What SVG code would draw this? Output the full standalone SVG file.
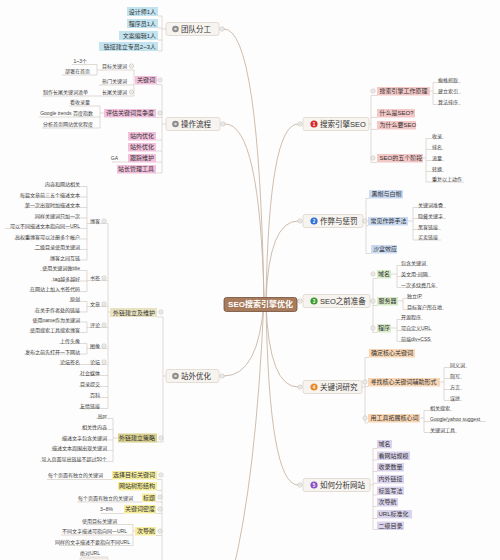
<svg xmlns="http://www.w3.org/2000/svg" width="500" height="560" viewBox="0 0 500 560" style="font-family:'Liberation Sans','Noto Sans CJK SC',sans-serif">
<defs>
<style>
.c{fill:none;stroke:#c9b6a4;stroke-width:0.9}
.l{fill:none;stroke:#cfc5bb;stroke-width:0.6}
.t{font-size:5px;fill:#404040}
.h{font-size:6px;fill:#333}
.m{font-size:7.5px;fill:#333}
.e{text-anchor:end}
.mb{fill:#f7f4f0;stroke:#d5cbc0;stroke-width:0.6}
.cb{fill:#fff;stroke:#aaa29a;stroke-width:0.5}
.blu{fill:#c2e4f0}
.pnk{fill:#f3c0dd}
.tan{fill:#e9e3c0}
.olv{fill:#d9d08e}
.yel{fill:#f6ee9c}
.red{fill:#f5c8c8}
.bl2{fill:#cadbf3}
.grn{fill:#d6ecc7}
.org{fill:#f9d6b4}
.pur{fill:#dbd3ee}
.ic{font-size:4.5px;fill:#fff;text-anchor:middle;font-weight:bold}
</style>
<g id="cbtn"><circle class="cb" r="2.1"/><path d="M-1.1 0H1.1" stroke="#888" stroke-width="0.4"/></g>
</defs>
<rect width="500" height="560" fill="#fdfdfd"/>

<g id="connectors">
<path class="c" d="M264 300Q259 29 224 29"/>
<path class="c" d="M264 300Q260 124 225 124"/>
<path class="c" d="M264 300Q259 376 224 376"/>
<path class="c" d="M264 300Q256 480 232 575"/>
<path class="c" d="M266 300Q269 124 298 124"/>
<path class="c" d="M266 300Q269 221 298 221"/>
<path class="c" d="M266 302Q280 301 298 301"/>
<path class="c" d="M266 304Q269 387 298 387"/>
<path class="c" d="M266 304Q269 485 298 485"/>
<path class="l" d="M166 29H162 M158 16H162V51H158 M158 28H162 M158 40H162"/>
<path class="l" d="M166 124H162 M157 84.5H162V173H156 M156 117.5H162 M156 140H162 M156 151H162 M156 162H162"/>
<path class="l" d="M135 80H134 M99 70H134 M99 85H134 M42 96H134 M134 70V96"/>
<path class="l" d="M72 64.5H97V75H62 M97 70H99"/>
<path class="l" d="M104 113H100 M69 106H100 M39 117H100 M42 128H100 M100 106V128 M112 162H128"/>
<path class="l" d="M166 376H163 M157 317H163V442H157"/>
<path class="l" d="M110 312H108 M108 223.5V408.5 M87 223.5H108 M87 280.5H108 M87 306.5H108 M87 327.5H108 M87 348.5H108 M59 364.5H108 M79 375.5H108 M79 386.5H108 M89 397.5H108 M79 408.5H108"/>
<path class="l" d="M87 186.5V260 M44 186.5H87 M19 197H87 M24 207.5H87 M34 218H87 M5 228.5H87 M14 239H87 M34 249.5H87 M49 260H87"/>
<path class="l" d="M87 270.5V291.5 M40 270.5H87 M51 281H87 M29 291.5H87"/>
<path class="l" d="M87 301.5V312 M69 301.5H87 M34 312H87 M87 322V332.5 M33 322H87 M29 332.5H87 M87 343.5V354 M59 343.5H87 M24 354H87"/>
<path class="l" d="M118 438H113 M113 418.5V461.5 M96 418.5H113 M81 429.5H113 M61 440H113 M51 450.5H113 M40 461.5H113"/>
<path class="l" d="M157 479.5H162V565 M157 490.5H162 M156 502H162 M156 513.5H162 M156 535.5H162 M47 479.5H112 M77 502H142 M101 513.5H124 M135 531H133 M133 524.5V545.5 M86 524.5H133 M61 535H133 M59 545.5H133 M81 557H108"/>
<path class="l" d="M369 124H371 M377 95.5H371V162.5H377 M377 117.5H371 M377 129.5H371"/>
<path class="l" d="M430 91H433 M433 82.5V104.5 M433 82.5H461 M433 93.5H461 M433 104.5H461"/>
<path class="l" d="M423 158H426 M426 138.5V182 M426 138.5H444 M426 149.5H444 M426 160.5H444 M426 171.5H444 M426 182H464"/>
<path class="l" d="M363 221H366 M369 198.5H366V253.5H371 M368 225.5H366"/>
<path class="l" d="M408 221H413 M413 207.5V240 M413 207.5H446 M413 218.5H446 M413 229.5H441 M413 240H441"/>
<path class="l" d="M370 301H373 M377 278.5H373V332.5H377 M377 305.5H373"/>
<path class="l" d="M391 274H397 M397 265.5V287.5 M397 265.5H428 M397 276.5H431 M397 287.5H438"/>
<path class="l" d="M398 301H403 M403 298.5V309.5 M403 298.5H422 M403 309.5H444"/>
<path class="l" d="M391 328H397 M397 319.5V341.5 M397 319.5H423 M397 330.5H432 M397 341.5H432"/>
<path class="l" d="M362 387H365 M369 357.5H365V423H368 M368 386.5H365"/>
<path class="l" d="M440 382H444 M444 367.5V400.5 M444 367.5H467 M444 378.5H462 M444 389.5H462 M444 400.5H462"/>
<path class="l" d="M420 418H424 M424 410.5V432.5 M424 410.5H452 M424 421.5H486 M424 432.5H457"/>
<path class="l" d="M370 485H373 M377 448.5H373V529.5H377 M377 460H373 M377 471.5H373 M377 483.5H373 M377 495H373 M377 506.5H373 M377 518.5H373"/>
</g>

<g id="center">
<rect x="224" y="297.5" width="73" height="14" rx="2.5" fill="#a77b5c" stroke="#74503a" stroke-width="0.8"/>
<text x="260.5" y="307.4" font-size="8" font-weight="bold" fill="#fff" text-anchor="middle">SEO搜索引擎优化</text>
</g>

<g id="n-team"><rect class="mb" x="166" y="22.5" width="53" height="13" rx="2"/><circle cx="175.5" cy="29" r="3.3" fill="#8c8c8c"/><circle cx="175.5" cy="29" r="1.3" fill="#ddd"/><text class="m" x="181" y="31.7">团队分工</text></g>
<g id="n-team-1"><rect class="blu" x="127" y="7" width="31" height="9"/><text class="h e" x="156" y="13.6">设计师1人</text></g>
<g id="n-team-2"><rect class="blu" x="127" y="19" width="31" height="9"/><text class="h e" x="156" y="25.6">程序员1人</text></g>
<g id="n-team-3"><rect class="blu" x="119" y="31" width="39" height="9"/><text class="h e" x="156" y="37.6">文案编辑1人</text></g>
<g id="n-team-4"><rect class="blu" x="99" y="42" width="59" height="9"/><text class="h e" x="156" y="48.6">链接建立专员2~3人</text></g>

<g id="n-flow"><rect class="mb" x="166" y="117.5" width="54" height="13" rx="2"/><circle cx="175.5" cy="124" r="3.3" fill="#8c8c8c"/><circle cx="175.5" cy="124" r="1.3" fill="#ddd"/><text class="m" x="181" y="126.7">操作流程</text></g>
<g id="n-kw"><rect class="pnk" x="135" y="76" width="22" height="8.5"/><text class="h e" x="155" y="82.2">关键词</text></g>
<g id="n-kw-1"><text class="t e" x="127" y="68">目标关键词</text></g>
<g id="n-kw-1a"><text class="t e" x="87" y="62.5">1~3个</text></g>
<g id="n-kw-1b"><text class="t e" x="90" y="72.8">部署在首页</text></g>
<g id="n-kw-2"><text class="t e" x="127" y="83">热门关键词</text></g>
<g id="n-kw-3"><text class="t e" x="127" y="94">长尾关键词</text></g>
<g id="n-kw-3a"><text class="t e" x="88" y="94">制作长尾关键词清单</text></g>
<g id="n-eval"><rect class="pnk" x="104" y="109" width="52" height="8.5"/><text class="h e" x="154" y="115.3">评估关键词竞争度</text></g>
<g id="n-eval-1"><text class="t e" x="90" y="104">看收录量</text></g>
<g id="n-eval-2"><text class="t e" x="93" y="115">Google trends 百度指数</text></g>
<g id="n-eval-3"><text class="t e" x="93" y="126">分析首页网站优化程度</text></g>
<g id="n-onpage"><rect class="pnk" x="128" y="132" width="28" height="8.5"/><text class="h e" x="154" y="138.3">站内优化</text></g>
<g id="n-offpage"><rect class="pnk" x="128" y="143" width="28" height="8.5"/><text class="h e" x="154" y="149.3">站外优化</text></g>
<g id="n-track"><rect class="pnk" x="128" y="154" width="28" height="8.5"/><text class="h e" x="154" y="160.3">跟踪维护</text></g>
<g id="n-ga"><text class="t e" x="118" y="160">GA</text></g>
<g id="n-wmt"><rect class="pnk" x="117" y="165" width="39" height="8.5"/><text class="h e" x="154" y="171.3">站长管理工具</text></g>

<g id="n-off"><rect class="mb" x="166" y="369.5" width="53" height="13" rx="2"/><circle cx="175.5" cy="376" r="3.3" fill="#8c8c8c"/><circle cx="175.5" cy="376" r="1.3" fill="#ddd"/><text class="m" x="181" y="378.7">站外优化</text></g>
<g id="n-link"><rect class="tan" x="110" y="308" width="47" height="9"/><text class="h e" x="155" y="314.6">外链建立及维护</text></g>
<g id="n-blog"><text class="t e" x="100" y="223">博客</text></g>
<g id="n-blog-1"><text class="t e" x="80" y="186">内容和网站相关</text></g>
<g id="n-blog-2"><text class="t e" x="80" y="196.5">每篇文章前三五个描述文本</text></g>
<g id="n-blog-3"><text class="t e" x="80" y="207">第一次出现时加描述文本</text></g>
<g id="n-blog-4"><text class="t e" x="80" y="217.5">同样关键词只加一次</text></g>
<g id="n-blog-5"><text class="t e" x="80" y="228">可以不同描述文本指向同一URL</text></g>
<g id="n-blog-6"><text class="t e" x="80" y="238.5">高权重博客可以注册多个帐户</text></g>
<g id="n-blog-7"><text class="t e" x="80" y="249">二级目录使用关键词</text></g>
<g id="n-blog-8"><text class="t e" x="80" y="259.5">博客之间互链</text></g>
<g id="n-bm"><text class="t e" x="100" y="280">书签</text></g>
<g id="n-bm-1"><text class="t e" x="80" y="270">使用关键词做title</text></g>
<g id="n-bm-2"><text class="t e" x="80" y="280.5">tag越多越好</text></g>
<g id="n-bm-3"><text class="t e" x="80" y="291">在网站上加入书签代码</text></g>
<g id="n-art"><text class="t e" x="100" y="306">文章</text></g>
<g id="n-art-1"><text class="t e" x="80" y="301">原创</text></g>
<g id="n-art-2"><text class="t e" x="80" y="311.5">在关于作者处的链接</text></g>
<g id="n-cmt"><text class="t e" x="100" y="327">评论</text></g>
<g id="n-cmt-1"><text class="t e" x="80" y="321.5">使用name作为关键词</text></g>
<g id="n-cmt-2"><text class="t e" x="80" y="332">使用搜索工具搜索博客</text></g>
<g id="n-img"><text class="t e" x="100" y="348">图像</text></g>
<g id="n-img-1"><text class="t e" x="80" y="343">上传头像</text></g>
<g id="n-img-2"><text class="t e" x="80" y="353.5">发布之前先打开一下网站</text></g>
<g id="n-bbs"><text class="t e" x="100" y="364">论坛</text></g>
<g id="n-bbs-1"><text class="t e" x="80" y="364">论坛签名</text></g>
<g id="n-sns"><text class="t e" x="100" y="375">社会媒体</text></g>
<g id="n-dir"><text class="t e" x="100" y="386">目录提交</text></g>
<g id="n-wiki"><text class="t e" x="100" y="397">百科</text></g>
<g id="n-fl"><text class="t e" x="100" y="408">友情链接</text></g>
<g id="n-strat"><rect class="olv" x="118" y="433.5" width="39" height="9"/><text class="h e" x="155" y="440.1">外链建立策略</text></g>
<g id="n-strat-1"><text class="t e" x="107" y="418">高pr</text></g>
<g id="n-strat-2"><text class="t e" x="107" y="429">相关性内容</text></g>
<g id="n-strat-3"><text class="t e" x="107" y="439.5">描述文字包含关键词</text></g>
<g id="n-strat-4"><text class="t e" x="107" y="450">描述文本周围出现关键词</text></g>
<g id="n-strat-5"><text class="t e" x="107" y="461">导入页面导出链接不超过50个</text></g>

<g id="n-sel"><rect class="yel" x="112" y="471" width="45" height="8.5"/><text class="h e" x="155" y="477.3">选择目标关键词</text></g>
<g id="n-sel-1"><text class="t e" x="103" y="477">每个页面有独立的关键词</text></g>
<g id="n-tree"><rect class="yel" x="118" y="482" width="39" height="8.5"/><text class="h e" x="155" y="488.3">网站树形结构</text></g>
<g id="n-title"><rect class="yel" x="142" y="493.5" width="14" height="8.5"/><text class="h e" x="155" y="499.8">标题</text></g>
<g id="n-title-1"><text class="t e" x="133" y="499.5">每个页面有独立的关键词</text></g>
<g id="n-dens"><rect class="yel" x="124" y="505" width="32" height="8.5"/><text class="h e" x="155" y="511.3">关键词密度</text></g>
<g id="n-dens-1"><text class="t e" x="113" y="511">3~8%</text></g>
<g id="n-nav"><rect class="yel" x="135" y="527" width="21" height="8.5"/><text class="h e" x="155" y="533.3">次导航</text></g>
<g id="n-nav-1"><text class="t e" x="117" y="522.5">使用目标关键词</text></g>
<g id="n-nav-2"><text class="t e" x="127" y="533">不同文字描述可指向同一URL</text></g>
<g id="n-nav-3"><text class="t e" x="130" y="543.5">同样的文字描述不要指向不同URL</text></g>
<g id="n-abs"><text class="t e" x="100" y="555">绝对URL</text></g>
<g id="n-cut"><rect x="80" y="558" width="28" height="8" fill="#f6f3ef" stroke="#d5cbc0" stroke-width="0.5"/></g>

<g id="n-se"><rect class="mb" x="303" y="117.5" width="66" height="13" rx="2"/><circle cx="314" cy="124" r="3.6" fill="#d42b2b"/><text class="ic" x="314" y="125.6">1</text><text class="m" x="320" y="126.7">搜索引擎SEO</text></g>
<g id="n-se-1"><rect class="red" x="377" y="87" width="53" height="8.5"/><text class="h" x="379.5" y="93.3">搜索引擎工作原理</text></g>
<g id="n-se-1a"><text class="t" x="438" y="81.8">蜘蛛抓取</text></g>
<g id="n-se-1b"><text class="t" x="438" y="92.8">建立索引</text></g>
<g id="n-se-1c"><text class="t" x="438" y="103.8">算法排序</text></g>
<g id="n-se-2"><rect class="red" x="377" y="109" width="38" height="8.5"/><text class="h" x="379.5" y="115.3">什么是SEO?</text></g>
<g id="n-se-3"><rect class="red" x="377" y="121" width="39" height="8.5"/><text class="h" x="379.5" y="127.3">为什么要SEO</text></g>
<g id="n-se-4"><rect class="red" x="377" y="154" width="46" height="8.5"/><text class="h" x="379.5" y="160.3">SEO的五个阶段</text></g>
<g id="n-se-4a"><text class="t" x="432" y="137.8">收录</text></g>
<g id="n-se-4b"><text class="t" x="432" y="148.8">排名</text></g>
<g id="n-se-4c"><text class="t" x="432" y="159.8">流量</text></g>
<g id="n-se-4d"><text class="t" x="432" y="170.8">转换</text></g>
<g id="n-se-4e"><text class="t" x="432" y="181.3">重复以上动作</text></g>

<g id="n-cheat"><rect class="mb" x="303" y="214.5" width="60" height="13" rx="2"/><circle cx="314" cy="221" r="3.6" fill="#2b6fd6"/><text class="ic" x="314" y="222.6">2</text><text class="m" x="320" y="223.7">作弊与惩罚</text></g>
<g id="n-ch-1"><rect class="bl2" x="369" y="190" width="34" height="8.5"/><text class="h" x="371.5" y="196.3">黑帽与白帽</text></g>
<g id="n-ch-2"><rect class="bl2" x="368" y="217" width="40" height="8.5"/><text class="h" x="370.5" y="223.3">常见作弊手法</text></g>
<g id="n-ch-2a"><text class="t" x="418" y="206.8">关键词堆叠</text></g>
<g id="n-ch-2b"><text class="t" x="418" y="217.8">隐藏关键字</text></g>
<g id="n-ch-2c"><text class="t" x="418" y="228.8">黑客链接</text></g>
<g id="n-ch-2d"><text class="t" x="418" y="239.3">买卖链接</text></g>
<g id="n-ch-3"><rect class="bl2" x="371" y="245" width="26" height="8.5"/><text class="h" x="373" y="251.3">沙盒效应</text></g>

<g id="n-prep"><rect class="mb" x="303" y="294.5" width="67" height="13" rx="2"/><circle cx="314" cy="301" r="3.6" fill="#3a9a2e"/><text class="ic" x="314" y="302.6">3</text><text class="m" x="320" y="303.7">SEO之前准备</text></g>
<g id="n-pr-1"><rect class="grn" x="377" y="270" width="14" height="8.5"/><text class="h" x="378" y="276.3">域名</text></g>
<g id="n-pr-1a"><text class="t" x="401" y="264.8">包含关键词</text></g>
<g id="n-pr-1b"><text class="t" x="401" y="275.8">英文用-间隔</text></g>
<g id="n-pr-1c"><text class="t" x="401" y="286.8">一次多续费几年</text></g>
<g id="n-pr-2"><rect class="grn" x="377" y="297" width="21" height="8.5"/><text class="h" x="378.5" y="303.3">服务器</text></g>
<g id="n-pr-2a"><text class="t" x="407" y="297.8">独立IP</text></g>
<g id="n-pr-2b"><text class="t" x="407" y="308.8">目标客户所在地</text></g>
<g id="n-pr-3"><rect class="grn" x="377" y="324" width="14" height="8.5"/><text class="h" x="378" y="330.3">程序</text></g>
<g id="n-pr-3a"><text class="t" x="401" y="318.8">开源程序</text></g>
<g id="n-pr-3b"><text class="t" x="401" y="329.8">可自定义URL</text></g>
<g id="n-pr-3c"><text class="t" x="401" y="340.8">前端div+CSS</text></g>

<g id="n-kwr"><rect class="mb" x="303" y="380.5" width="59" height="13" rx="2"/><circle cx="314" cy="387" r="3.6" fill="#e8892a"/><text class="ic" x="314" y="388.6">4</text><text class="m" x="320" y="389.7">关键词研究</text></g>
<g id="n-kr-1"><rect class="org" x="369" y="349" width="46" height="8.5"/><text class="h" x="371" y="355.3">确定核心关键词</text></g>
<g id="n-kr-2"><rect class="org" x="368" y="378" width="72" height="8.5"/><text class="h" x="370.5" y="384.3">寻找核心关键词辅助形式</text></g>
<g id="n-kr-2a"><text class="t" x="450" y="366.8">同义词</text></g>
<g id="n-kr-2b"><text class="t" x="450" y="377.8">简写</text></g>
<g id="n-kr-2c"><text class="t" x="450" y="388.8">方言</text></g>
<g id="n-kr-2d"><text class="t" x="450" y="399.8">误拼</text></g>
<g id="n-kr-3"><rect class="org" x="368" y="414" width="52" height="8.5"/><text class="h" x="370.5" y="420.3">用工具拓展核心词</text></g>
<g id="n-kr-3a"><text class="t" x="430" y="409.8">相关搜索</text></g>
<g id="n-kr-3b"><text class="t" x="430" y="420.8">Google/yahoo suggest</text></g>
<g id="n-kr-3c"><text class="t" x="430" y="431.8">关键词工具</text></g>

<g id="n-ana"><rect class="mb" x="303" y="478.5" width="67" height="13" rx="2"/><circle cx="314" cy="485" r="3.6" fill="#8a52c8"/><text class="ic" x="314" y="486.6">5</text><text class="m" x="320" y="487.7">如何分析网站</text></g>
<g id="n-an-1"><rect class="pur" x="377" y="440" width="15" height="8.5"/><text class="h" x="378.5" y="446.3">域名</text></g>
<g id="n-an-2"><rect class="pur" x="377" y="451.5" width="33" height="8.5"/><text class="h" x="378.5" y="457.8">看网站规模</text></g>
<g id="n-an-3"><rect class="pur" x="377" y="463" width="27" height="8.5"/><text class="h" x="378.5" y="469.3">收录数量</text></g>
<g id="n-an-4"><rect class="pur" x="377" y="475" width="27" height="8.5"/><text class="h" x="378.5" y="481.3">内外链接</text></g>
<g id="n-an-5"><rect class="pur" x="377" y="486.5" width="27" height="8.5"/><text class="h" x="378.5" y="492.8">标签写法</text></g>
<g id="n-an-6"><rect class="pur" x="377" y="498" width="21" height="8.5"/><text class="h" x="378.5" y="504.3">次导航</text></g>
<g id="n-an-7"><rect class="pur" x="377" y="510" width="35" height="8.5"/><text class="h" x="378.5" y="516.3">URL标准化</text></g>
<g id="n-an-8"><rect class="pur" x="377" y="521.5" width="27" height="8.5"/><text class="h" x="378.5" y="527.8">二级目录</text></g>

<g id="collapse">
<use href="#cbtn" x="222" y="29"/><use href="#cbtn" x="223" y="124"/><use href="#cbtn" x="222" y="376"/>
<use href="#cbtn" x="160" y="80"/><use href="#cbtn" x="160" y="113"/><use href="#cbtn" x="131.5" y="66"/><use href="#cbtn" x="131.5" y="92"/>
<use href="#cbtn" x="161" y="312"/><use href="#cbtn" x="161" y="438"/>
<use href="#cbtn" x="104" y="221"/><use href="#cbtn" x="104" y="278"/><use href="#cbtn" x="104" y="304"/><use href="#cbtn" x="104" y="325"/><use href="#cbtn" x="104" y="346"/><use href="#cbtn" x="104" y="362"/>
<use href="#cbtn" x="161" y="475"/><use href="#cbtn" x="160" y="497"/><use href="#cbtn" x="160" y="509"/><use href="#cbtn" x="160" y="531"/>
<use href="#cbtn" x="300" y="124"/><use href="#cbtn" x="300" y="221"/><use href="#cbtn" x="300" y="301"/><use href="#cbtn" x="300" y="387"/><use href="#cbtn" x="300" y="485"/>
<use href="#cbtn" x="373" y="91"/><use href="#cbtn" x="373" y="158"/><use href="#cbtn" x="365" y="221"/>
<use href="#cbtn" x="373" y="274"/><use href="#cbtn" x="373" y="301"/><use href="#cbtn" x="373" y="328"/>
<use href="#cbtn" x="365" y="382"/><use href="#cbtn" x="365" y="418"/>
</g>
</svg>
